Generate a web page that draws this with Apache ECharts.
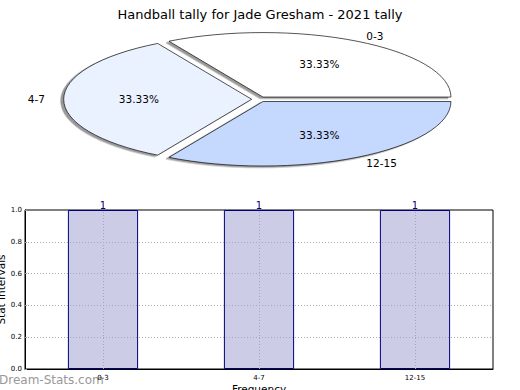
<!DOCTYPE html>
<html><head><meta charset="utf-8">
<script src="https://cdn.jsdelivr.net/npm/echarts@6/dist/echarts.min.js"></script>
<style>html,body{margin:0;padding:0;background:#fff}#c{width:520px;height:390px}</style>
</head><body><div id="c"></div>
<script>
// ---- data ----
const categories = ['0-3', '4-7', '12-15'];
const values = [1, 1, 1];
const yTicks = [0, 0.2, 0.4, 0.6, 0.8, 1.0];
const pieColors = ['#ffffff', '#ebf2ff', '#c5d8fe'];
const titleText = 'Handball tally for Jade Gresham - 2021 tally';
const xName = 'Frequency';
const yName = 'Stat intervals';
const watermark = 'Dream-Stats.com';

// ---- layout / style ----
const FONT = 'DejaVu Sans';
const CX = 259.2, CY = 99.3, RX = 188, RY = 64.5, S = RY / RX, EXPLODE = 0.04;

const total = values.reduce((a, b) => a + b, 0);
const graphics = [];
let acc = 0;
values.forEach((v, i) => {
  const mid = (acc + v / 2) / total * 2 * Math.PI; acc += v;
  const c = Math.cos(mid), s = Math.sin(mid);
  const ex = CX + EXPLODE * RX * c, ey = CY - EXPLODE * RY * s;
  graphics.push({type: 'text', silent: true, z: 10, style: {
    text: (v / total * 100).toFixed(2) + '%', x: ex + 0.6 * RX * c, y: ey - 0.6 * RY * s,
    align: 'center', verticalAlign: 'middle', textAlign: 'center', textVerticalAlign: 'middle',
    fill: '#000', fontSize: 10.5, fontFamily: FONT}});
  const al = c >= 0 ? 'left' : 'right';
  graphics.push({type: 'text', silent: true, z: 10, style: {
    text: categories[i], x: ex + 1.1 * RX * c, y: ey - 1.1 * RY * s,
    align: al, verticalAlign: 'middle', textAlign: al, textVerticalAlign: 'middle',
    fill: '#000', fontSize: 10.5, fontFamily: FONT}});
});
graphics.push({type: 'text', silent: true, z: 0, left: -1, top: 374, style: {
  text: watermark, fill: '#999', fontSize: 12, fontFamily: FONT}});

const gridLine = {type: [1, 2], color: '#aaaaaa', width: 1};

const option = {
  animation: false,
  backgroundColor: '#fff',
  title: {text: titleText, left: 'center', top: 3,
    textStyle: {fontFamily: FONT, fontSize: 13, fontWeight: 'normal', color: '#000'}},
  graphic: graphics,
  grid: {left: 25, right: 27, top: 210, bottom: 21, containLabel: false, outerBoundsMode: 'none',
    show: true, borderColor: '#000', borderWidth: 1, backgroundColor: 'transparent'},
  xAxis: {type: 'category', data: categories, boundaryGap: true,
    axisLine: {show: true, lineStyle: {color: '#000'}}, axisTick: {show: false},
    axisLabel: {fontSize: 7, color: '#000', fontFamily: FONT, margin: 5},
    splitLine: {show: false},
    name: xName, nameLocation: 'middle', nameGap: 14, nameMoveOverlap: false,
    nameTextStyle: {fontSize: 10.5, color: '#000', fontFamily: FONT}},
  yAxis: {type: 'value', min: yTicks[0], max: yTicks[yTicks.length - 1], interval: 0.2,
    axisLine: {show: true, lineStyle: {color: '#000'}},
    axisTick: {show: true, inside: true, length: 2, lineStyle: {color: '#999'}},
    axisLabel: {fontSize: 7, color: '#000', fontFamily: FONT, margin: 3, formatter: v => v.toFixed(1)},
    splitLine: {show: false},
    name: yName, nameLocation: 'middle', nameGap: 19, nameMoveOverlap: false,
    nameTextStyle: {fontSize: 10.5, color: '#000', fontFamily: FONT}},
  series: [
    {type: 'pie', silent: true, center: [CX, CY], radius: RX, startAngle: 0, clockwise: false,
      selectedMode: 'multiple', selectedOffset: EXPLODE * RX, avoidLabelOverlap: false,
      label: {show: false}, labelLine: {show: false}, emphasis: {disabled: true},
      itemStyle: {borderColor: '#000', borderWidth: 1, shadowColor: 'rgba(0,0,0,0.4)', shadowOffsetX: -3, shadowOffsetY: 1.5, shadowBlur: 0},
      data: categories.map((c, i) => ({name: c, value: values[i], selected: true, itemStyle: {color: pieColors[i]}}))},
    {type: 'bar', silent: true, data: values, barWidth: '45%', z: 2,
      itemStyle: {color: '#ccccE6', borderColor: '#000080', borderWidth: 1},
      label: {show: true, position: 'top', distance: 0, color: '#000080', fontSize: 10, fontFamily: FONT},
      markLine: {silent: true, symbol: 'none', label: {show: false}, lineStyle: gridLine, z: 5,
        data: yTicks.slice(1, -1).map(v => ({yAxis: v})).concat(categories.map(c => ({xAxis: c})))}}
  ]
};

const chart = echarts.init(document.getElementById('c'), null, {renderer: 'svg'});
chart.setOption(option);
const zr = chart.getZr();
zr.storage.getDisplayList(true).forEach(el => {
  if (el.type === 'sector') {
    el.originX = el.shape.cx; el.originY = el.shape.cy; el.scaleY = S;
    el.y = (el.y || 0) * S;
    el.setStyle('strokeNoScale', true);
    el.markRedraw();
  }
});
zr.refreshImmediately();
</script></body></html>
